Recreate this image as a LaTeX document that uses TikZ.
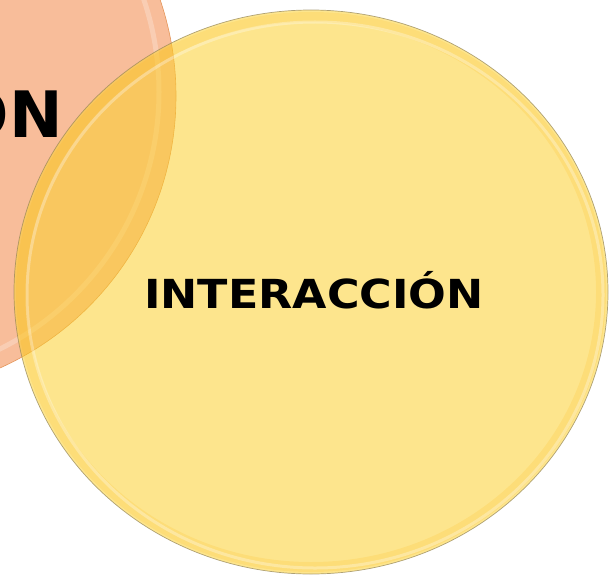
\documentclass[tikz,border=0pt]{standalone}
\usepackage{fontspec}
\setmainfont{DejaVu Sans}
\newfontfamily\widebold[FakeStretch=1.11]{DejaVu Sans}
\definecolor{peach}{RGB}{248,189,154}
\definecolor{peachline}{RGB}{228,150,90}
\definecolor{gold}{RGB}{251,208,48}
\definecolor{rimline}{RGB}{150,135,90}
\tikzset{
  vennlabel/.style={font=\widebold\bfseries\fontsize{40}{48}\selectfont, text=black, inner sep=0pt},
  bigvenn/.style={font=\bfseries\fontsize{64}{76}\selectfont, text=black, inner sep=0pt},
}
\begin{document}
\begin{tikzpicture}[x=1pt,y=-1pt]
\useasboundingbox (0,0) rectangle (609,575);
\clip (0,0) rectangle (609,575);
% orange circle
\fill[peach] (-122,96) circle (298);
\draw[white, opacity=0.25, line width=5pt] (-128,92) circle (287);
\draw[peachline, line width=0.6pt] (-122,96) circle (298);
\node[bigvenn, anchor=east] (on) at (63,114) {ON};
% yellow circle
\fill[gold, opacity=0.55] (311,292) ellipse [x radius=297, y radius=282];
\draw[orange!60!yellow, opacity=0.15, line width=10pt] (311,292) ellipse [x radius=290, y radius=275];
\draw[white, opacity=0.3, line width=3pt] (315,295) ellipse [x radius=288, y radius=273];
\draw[rimline, opacity=0.75, line width=0.7pt] (311,292) ellipse [x radius=297, y radius=282];
\node[vennlabel] (inter) at (314,290) {INTERACCIÓN};
\end{tikzpicture}
\end{document}
